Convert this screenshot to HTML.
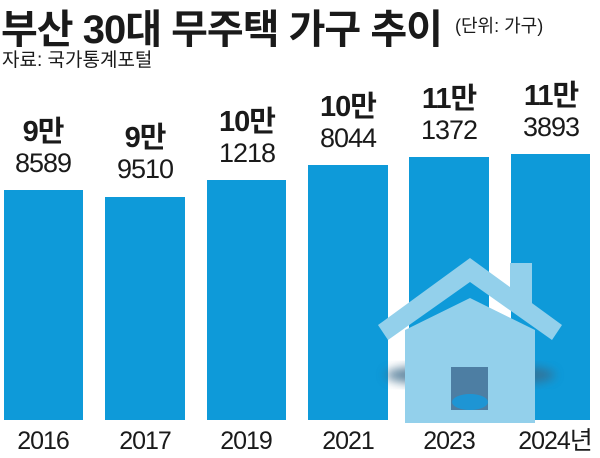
<!DOCTYPE html>
<html><head><meta charset="utf-8"><style>
body{margin:0;width:600px;height:458px;background:#fff;overflow:hidden;position:relative;font-family:"Liberation Sans","Noto Sans CJK KR",sans-serif;color:#1a1a1a}
.t{position:absolute;white-space:nowrap}
.bar{position:absolute;background:#0e9ad9;bottom:38px}
.lab{position:absolute;text-align:center;width:100px;line-height:1;white-space:nowrap}
.lab b{display:block;font-size:29px;font-weight:bold;letter-spacing:-1px}
.lab span{display:block;font-size:27px;margin-top:3px;letter-spacing:-1px}
.yr{position:absolute;top:426px;height:30px;line-height:30px;font-size:25px;width:120px;text-align:center;letter-spacing:-1px;white-space:nowrap}
</style></head><body>
<div class="t" style="left:1px;top:-3px;font-size:40px;font-weight:bold;letter-spacing:-1px">부산 30대 무주택 가구 추이</div>
<div class="t" style="left:455px;top:12px;font-size:18px">(단위: 가구)</div>
<div class="t" style="left:2px;top:45px;font-size:19px">자료: 국가통계포털</div>

<div class="bar" style="left:4px;width:79px;top:190px"></div>
<div class="bar" style="left:105px;width:80px;top:197px"></div>
<div class="bar" style="left:207px;width:79px;top:180px"></div>
<div class="bar" style="left:308px;width:80px;top:165px"></div>
<div class="bar" style="left:409px;width:80px;top:157px"></div>
<div class="bar" style="left:511px;width:79px;top:154px"></div>

<div class="lab" style="left:-7px;top:118px"><b>9만</b><span>8589</span></div>
<div class="lab" style="left:95px;top:124px"><b>9만</b><span>9510</span></div>
<div class="lab" style="left:197px;top:108px"><b>10만</b><span>1218</span></div>
<div class="lab" style="left:298px;top:93px"><b>10만</b><span>8044</span></div>
<div class="lab" style="left:399px;top:85px"><b>11만</b><span>1372</span></div>
<div class="lab" style="left:501px;top:82px"><b>11만</b><span>3893</span></div>

<svg style="position:absolute;left:0;top:0" width="600" height="458">
<defs><filter id="b"><feGaussianBlur stdDeviation="5"/></filter></defs>
<ellipse cx="470" cy="375" rx="85" ry="12" fill="#3a6a8a" opacity="0.8" filter="url(#b)"/>
<rect x="510" y="263" width="22" height="45" fill="#93d0eb"/>
<polygon points="405,330 470,298 535,330 535,423 405,423" fill="#93d0eb"/>
<polygon points="378,325 470,258 562,325 552,340 470,282 388,340" fill="#93d0eb"/>
<rect x="451" y="367" width="37" height="43" fill="#4d7ea3"/>
<ellipse cx="470" cy="402" rx="18" ry="8" fill="#1e95d4"/>
</svg>

<div class="yr" style="left:-17px">2016</div>
<div class="yr" style="left:85px">2017</div>
<div class="yr" style="left:186px">2019</div>
<div class="yr" style="left:288px">2021</div>
<div class="yr" style="left:389px">2023</div>
<div class="yr" style="left:495px">2024년</div>
</body></html>
